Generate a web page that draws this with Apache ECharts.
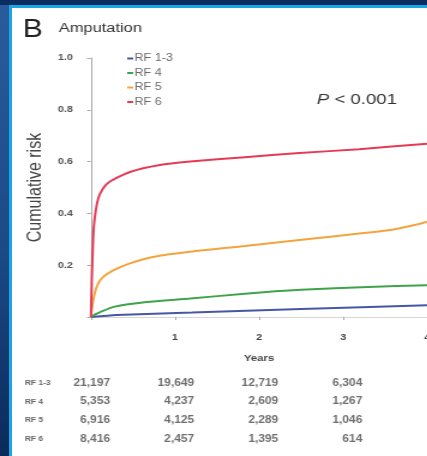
<!DOCTYPE html>
<html>
<head>
<meta charset="utf-8">
<script src="https://cdn.jsdelivr.net/npm/echarts@6/dist/echarts.min.js"></script>
<style>
  html, body { margin: 0; padding: 0; }
  body {
    width: 427px; height: 456px; overflow: hidden; position: relative;
    background: linear-gradient(180deg, #2a5c9c 0%, #1b4a86 55%, #0b2a5a 100%);
  }
  /* slide frame: navy top band, cyan edge, white sheet */
  #band { position: absolute; left: 0; top: 0; width: 427px; height: 5px; background: #0b2c5e; }
  #edge { position: absolute; left: 9px; top: 5px; width: 418px; height: 451px; background: #1aa6e4; }
  #sheet { position: absolute; left: 12px; top: 8px; width: 415px; height: 448px; background: #fff; }
  /* the source figure is stretched horizontally, so the chart is too */
  #main {
    position: absolute; left: 0; top: 0; width: 356px; height: 456px;
    transform: scaleX(1.2); transform-origin: 0 0;
  }
</style>
</head>
<body>
<div id="band"></div>
<div id="edge"></div>
<div id="sheet"></div>
<div id="main"></div>
<script>
// 曲线数据 [年, 累计风险]
var groups = ["RF 1-3", "RF 4", "RF 5", "RF 6"];
var colors = ["#4657a6", "#3ea34b", "#f3a43c", "#e53a55"];

var rf13 = [[0, 0], [0.3, 0.008], [1.2, 0.017], [2.5, 0.031], [4, 0.045]];
var rf4 = [[0, 0], [0.05, 0.01], [0.11, 0.019], [0.27, 0.039], [0.66, 0.058],
  [1.18, 0.071], [1.83, 0.09], [2.5, 0.105], [3.3, 0.116], [4, 0.123]];
var rf5 = [[0, 0], [0.01, 0.03], [0.027, 0.065], [0.045, 0.092], [0.068, 0.116],
  [0.1, 0.137], [0.146, 0.155], [0.265, 0.18], [0.463, 0.207], [0.74, 0.232],
  [1.18, 0.252], [1.83, 0.274], [2.48, 0.297], [3.27, 0.325], [3.6, 0.338],
  [3.85, 0.355], [4, 0.368]];
var rf6 = [[0, 0], [0.01, 0.15], [0.027, 0.31], [0.047, 0.388], [0.087, 0.458],
  [0.146, 0.497], [0.226, 0.523], [0.463, 0.56], [0.82, 0.587], [1.18, 0.60],
  [1.83, 0.617], [2.48, 0.633], [3.19, 0.648], [4, 0.669]];
var curves = [rf13, rf4, rf5, rf6];

// 风险人数表
var tableYears = [0, 1, 2, 3];
var atRisk13 = [21197, 19649, 12719, 6304];
var atRisk4 = [5353, 4237, 2609, 1267];
var atRisk5 = [6916, 4125, 2289, 1046];
var atRisk6 = [8416, 2457, 1395, 614];
var atRisk = [atRisk13, atRisk4, atRisk5, atRisk6];

var font = "Liberation Sans, Arial, sans-serif";

var series = groups.map(function (g, i) {
  return {
    name: g,
    type: "line",
    data: curves[i],
    smooth: 0.2,
    showSymbol: false,
    lineStyle: { width: 2, color: colors[i] },
    itemStyle: { color: colors[i] },
    z: 3
  };
});

var tableData = [];
atRisk.forEach(function (row, r) {
  row.forEach(function (v, c) {
    tableData.push([tableYears[c], r, v]);
  });
});

series.push({
  type: "scatter",
  xAxisIndex: 1,
  yAxisIndex: 1,
  symbolSize: 0,
  data: tableData,
  silent: true,
  label: {
    show: true,
    position: "inside",
    align: "right",
    offset: [16, 0],
    formatter: function (p) { return p.value[2].toLocaleString("en-US"); },
    fontFamily: font,
    fontSize: 10,
    fontWeight: "bold",
    color: "#4a4a4a"
  }
});

var chart = echarts.init(document.getElementById("main"));
var option = {
  backgroundColor: "transparent",
  animation: false,
  textStyle: { fontFamily: font },
  legend: {
    orient: "vertical",
    left: 101,
    top: 47.5,
    icon: "rect",
    itemWidth: 5,
    itemHeight: 2,
    itemGap: 2.5,
    data: groups,
    textStyle: { fontSize: 10.5, lineHeight: 12, color: "#6a6a6a", padding: [0, 0, 0, -4] }
  },
  graphic: [
    { type: "text", x: 19, y: 30, style: { text: "B", font: "25px " + font, fill: "#222", verticalAlign: "middle" } },
    { type: "text", x: 49, y: 28.5, style: { text: "Amputation", font: "13.7px " + font, fill: "#333", verticalAlign: "middle" } },
    {
      type: "text", x: 264, y: 100,
      style: {
        text: "{i|P} < 0.001",
        font: "15.5px " + font,
        fill: "#333",
        verticalAlign: "middle",
        rich: { i: { fontStyle: "italic", fontSize: 15.5, fontFamily: font, fill: "#333" } }
      }
    }
  ],
  grid: [
    { left: 75.8, right: 0, top: 58, bottom: 139, outerBoundsMode: "none", containLabel: false },
    { left: 75.8, right: 0, top: 373.6, height: 75, outerBoundsMode: "none", containLabel: false }
  ],
  xAxis: [
    {
      type: "value",
      min: 0,
      max: 4,
      interval: 1,
      name: "Years",
      nameLocation: "middle",
      nameGap: 36,
      nameTextStyle: { fontSize: 9.5, fontWeight: "bold", color: "#444" },
      axisLine: { show: true, lineStyle: { color: "#d6d6d6", width: 1 } },
      axisTick: { show: true, length: 3, lineStyle: { color: "#aaa" } },
      axisLabel: {
        margin: 16,
        fontSize: 9,
        fontWeight: "bold",
        color: "#444",
        showMaxLabel: true,
        formatter: function (v) { return v === 0 ? "" : String(v); }
      },
      splitLine: { show: false }
    },
    { type: "value", gridIndex: 1, min: 0, max: 4, show: false }
  ],
  yAxis: [
    {
      type: "value",
      min: 0,
      max: 1,
      interval: 0.2,
      name: "Cumulative risk",
      nameLocation: "middle",
      nameGap: 37,
      nameTextStyle: { fontSize: 16, color: "#444" },
      axisLine: { show: true, lineStyle: { color: "#aaa", width: 1 } },
      axisTick: { show: true, length: 3.3, lineStyle: { color: "#aaa" } },
      axisLabel: {
        margin: 15,
        fontSize: 9,
        fontWeight: "bold",
        color: "#555",
        formatter: function (v) { return v === 0 ? "" : v.toFixed(1); }
      },
      splitLine: { show: false }
    },
    {
      type: "category",
      gridIndex: 1,
      inverse: true,
      data: groups,
      axisLine: { show: false },
      axisTick: { show: false },
      axisLabel: {
        align: "left",
        margin: 55,
        fontSize: 7,
        fontWeight: "bold",
        color: "#666"
      }
    }
  ],
  series: series
};
option && chart.setOption(option);
</script>
</body>
</html>
